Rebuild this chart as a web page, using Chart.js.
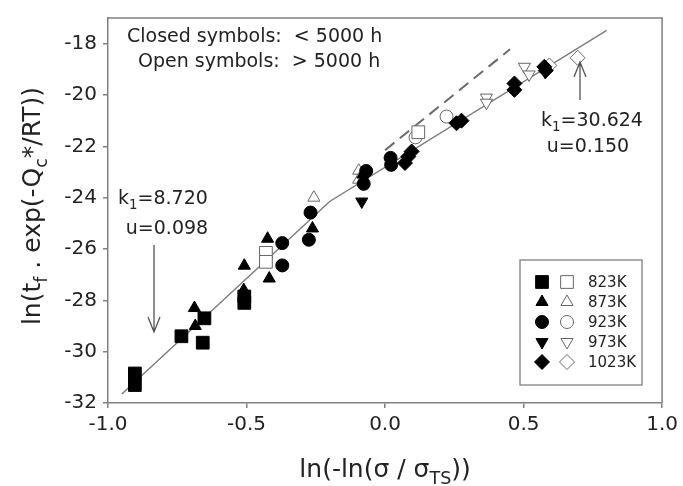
<!DOCTYPE html>
<html><head><meta charset="utf-8">
<script src="https://cdn.jsdelivr.net/npm/chart.js@4/dist/chart.umd.min.js"></script>
<style>html,body{margin:0;padding:0;background:#fff}</style>
</head><body>
<canvas id="c" width="683" height="486"></canvas>
<script>
// ---- data ----
const xTicks = [-1.0, -0.5, 0.0, 0.5, 1.0];
const yTicks = [-32, -30, -28, -26, -24, -22, -20, -18];
const temperatures = ['823K', '873K', '923K', '973K', '1023K'];

const closed823 = [[-0.903,-30.85],[-0.903,-31.3],[-0.735,-29.4],[-0.658,-29.65],[-0.652,-28.7],[-0.508,-27.85],[-0.508,-28.1]];
const open823   = [[-0.43,-26.15],[-0.43,-26.5],[0.12,-21.45]];
const closed873 = [[-0.688,-28.3],[-0.685,-29.0],[-0.508,-26.65],[-0.51,-27.6],[-0.424,-25.6],[-0.418,-27.15],[-0.262,-25.2],[-0.08,-23.1]];
const open873   = [[-0.257,-24.0],[-0.095,-22.95],[-0.095,-23.3]];
const closed923 = [[-0.371,-25.77],[-0.371,-26.64],[-0.269,-24.58],[-0.275,-25.64],[-0.077,-23.46],[-0.068,-22.96],[0.02,-22.45],[0.022,-22.72]];
const open923   = [[0.11,-21.65],[0.222,-20.84]];
const closed973 = [[-0.084,-24.15],[0.578,-19.1]];
const open973   = [[0.366,-20.1],[0.366,-20.3],[0.503,-18.9],[0.52,-19.2]];
const closed1023 = [[0.084,-22.4],[0.096,-22.2],[0.072,-22.65],[0.258,-21.1],[0.276,-21.0],[0.467,-19.55],[0.467,-19.8],[0.575,-18.9],[0.58,-19.05]];
const open1023   = [[0.593,-18.85],[0.695,-18.55]];

// fitted lines: k1=8.720/u=0.098 (lower) and k1=30.624/u=0.150 (upper)
const fitLine  = [[-0.95,-31.65],[-0.2,-24.15],[0.8,-17.48]];
const dashLine = [[0.0,-22.15],[0.451,-18.22]];

// ---- styling ----
const shapes = [
  {style:'rect', r:9, rot:0},
  {style:'triangle', r:7, rot:0},
  {style:'circle', r:6.5, rot:0},
  {style:'triangle', r:7, rot:180},
  {style:'rectRot', r:7.5, rot:0}
];
const closedSets = [closed823, closed873, closed923, closed973, closed1023];
const openSets = [open823, open873, open923, open973, open1023];
const toPts = a => a.map(p => ({x:p[0], y:p[1]}));
const FONT = '"DejaVu Sans", Arial, sans-serif';
const AXIS = '#808080';

const datasets = [];
temperatures.forEach((t, i) => {
  const s = shapes[i];
  datasets.push({label: t + ' closed', data: toPts(closedSets[i]), pointStyle: s.style, pointRadius: s.r,
    pointRotation: s.rot, backgroundColor: '#000', borderColor: '#000', borderWidth: 1, showLine: false, order: 1});
  datasets.push({label: t + ' open', data: toPts(openSets[i]), pointStyle: s.style, pointRadius: s.r,
    pointRotation: s.rot, backgroundColor: '#fff', borderColor: '#666', borderWidth: 1, showLine: false, order: 2});
});
datasets.push({label:'fit', data: toPts(fitLine), showLine:true, pointRadius:0, borderColor:'#7a7a7a', borderWidth:1.4, order:10});
datasets.push({label:'ext', data: toPts(dashLine), showLine:true, pointRadius:0, borderColor:'#6a6a6a', borderWidth:2, borderDash:[12,7], order:10});

function shapePath(ctx, style, x, y, r, rot) {
  ctx.beginPath();
  if (style === 'rect') {
    const s = Math.SQRT1_2 * r; ctx.rect(x - s, y - s, 2*s, 2*s);
  } else if (style === 'circle') {
    ctx.arc(x, y, r, 0, Math.PI*2);
  } else if (style === 'rectRot') {
    ctx.moveTo(x, y - r); ctx.lineTo(x + r, y); ctx.lineTo(x, y + r); ctx.lineTo(x - r, y); ctx.closePath();
  } else if (style === 'triangle') {
    let a = rot * Math.PI / 180;
    for (let k = 0; k < 3; k++) {
      const px = x + Math.sin(a) * r, py = y - Math.cos(a) * r;
      k ? ctx.lineTo(px, py) : ctx.moveTo(px, py);
      a += 2*Math.PI/3;
    }
    ctx.closePath();
  }
}

function richWidth(ctx, parts, size) {
  let w = 0;
  for (const p of parts) { ctx.font = (p.sub ? size*0.7 : size) + 'px ' + FONT; w += ctx.measureText(p.t).width; }
  return w;
}
function drawRich(ctx, parts, x, y, size, align) {
  const w = richWidth(ctx, parts, size);
  let cx = align === 'center' ? x - w/2 : (align === 'right' ? x - w : x);
  ctx.textAlign = 'left'; ctx.textBaseline = 'alphabetic';
  for (const p of parts) {
    const fs = p.sub ? size*0.7 : size;
    ctx.font = fs + 'px ' + FONT;
    ctx.fillText(p.t, cx, y + (p.sub ? size*0.28 : 0));
    cx += ctx.measureText(p.t).width;
  }
}
function arrow(ctx, x, y0, y1) {
  const dir = Math.sign(y1 - y0);
  ctx.beginPath();
  ctx.moveTo(x, y0); ctx.lineTo(x, y1);
  ctx.moveTo(x - 6, y1 - dir*15); ctx.lineTo(x, y1); ctx.lineTo(x + 6, y1 - dir*15);
  ctx.stroke();
}

const decorations = {
  id: 'decorations',
  afterDraw(chart) {
    const ctx = chart.ctx, a = chart.chartArea;
    ctx.save();
    ctx.strokeStyle = AXIS; ctx.lineWidth = 1.5;
    ctx.beginPath();
    ctx.moveTo(a.left, a.top); ctx.lineTo(a.right, a.top); ctx.lineTo(a.right, a.bottom);
    ctx.stroke();

    ctx.fillStyle = '#222';
    drawRich(ctx, [{t:'ln(-ln(σ / σ'},{t:'TS',sub:true},{t:'))'}], (a.left + a.right)/2, 477, 25, 'center');
    ctx.save();
    ctx.translate(40, 206); ctx.rotate(-Math.PI/2);
    drawRich(ctx, [{t:'ln(t'},{t:'f',sub:true},{t:' . exp(-Q'},{t:'c',sub:true},{t:'*/RT))'}], 0, 0, 25, 'center');
    ctx.restore();

    drawRich(ctx, [{t:'Closed symbols:  < 5000 h'}], 127, 42, 19, 'left');
    drawRich(ctx, [{t:'Open symbols:  > 5000 h'}], 138, 67, 19, 'left');

    drawRich(ctx, [{t:'k'},{t:'1',sub:true},{t:'=8.720'}], 163, 204, 19, 'center');
    drawRich(ctx, [{t:'u=0.098'}], 167, 234, 19, 'center');
    drawRich(ctx, [{t:'k'},{t:'1',sub:true},{t:'=30.624'}], 592, 126, 19, 'center');
    drawRich(ctx, [{t:'u=0.150'}], 588, 152, 19, 'center');

    ctx.strokeStyle = '#555'; ctx.lineWidth = 1.3;
    arrow(ctx, 154, 245, 332);
    arrow(ctx, 580, 100, 62);

    ctx.strokeStyle = '#808080'; ctx.lineWidth = 1.3;
    ctx.fillStyle = '#fff';
    ctx.fillRect(520, 260, 122, 125);
    ctx.strokeRect(520, 260, 122, 125);
    temperatures.forEach((t, i) => {
      const y = 282 + i*20, s = shapes[i];
      ctx.lineWidth = 1;
      shapePath(ctx, s.style, 542, y, s.r, s.rot);
      ctx.fillStyle = '#000'; ctx.strokeStyle = '#000'; ctx.fill(); ctx.stroke();
      shapePath(ctx, s.style, 567, y, s.r, s.rot);
      ctx.fillStyle = '#fff'; ctx.strokeStyle = '#666'; ctx.fill(); ctx.stroke();
      ctx.fillStyle = '#222'; ctx.font = '15px ' + FONT;
      ctx.textAlign = 'left'; ctx.textBaseline = 'middle';
      ctx.fillText(t, 588, y + 1);
    });
    ctx.restore();
  }
};

new Chart(document.getElementById('c'), {
  type: 'scatter',
  data: { datasets },
  options: {
    responsive: false, animation: false, devicePixelRatio: 1,
    layout: { padding: { top: 3, right: 19, left: 0, bottom: 0 } },
    plugins: { legend: { display: false }, tooltip: { enabled: false } },
    scales: {
      x: {
        type: 'linear', position: 'bottom', min: -1, max: 1,
        afterBuildTicks: s => { s.ticks = xTicks.map(v => ({value: v})); },
        afterFit: s => { s.height = 83; },
        ticks: { callback: v => Number(v).toFixed(1), color: '#222', font: { family: FONT, size: 20 }, padding: 5, maxRotation: 0 },
        grid: { drawOnChartArea: false, drawTicks: true, tickLength: 5, color: AXIS, lineWidth: 1.5 },
        border: { display: true, color: AXIS, width: 1.5 }
      },
      y: {
        type: 'linear', position: 'left', min: -32, max: -17,
        afterBuildTicks: s => { s.ticks = yTicks.map(v => ({value: v})); },
        afterFit: s => { s.width = 108; },
        ticks: { callback: v => String(v), color: '#222', font: { family: FONT, size: 20 }, padding: 6 },
        grid: { drawOnChartArea: false, drawTicks: true, tickLength: 5, color: AXIS, lineWidth: 1.5 },
        border: { display: true, color: AXIS, width: 1.5 }
      }
    }
  },
  plugins: [decorations]
});
</script>
</body></html>
